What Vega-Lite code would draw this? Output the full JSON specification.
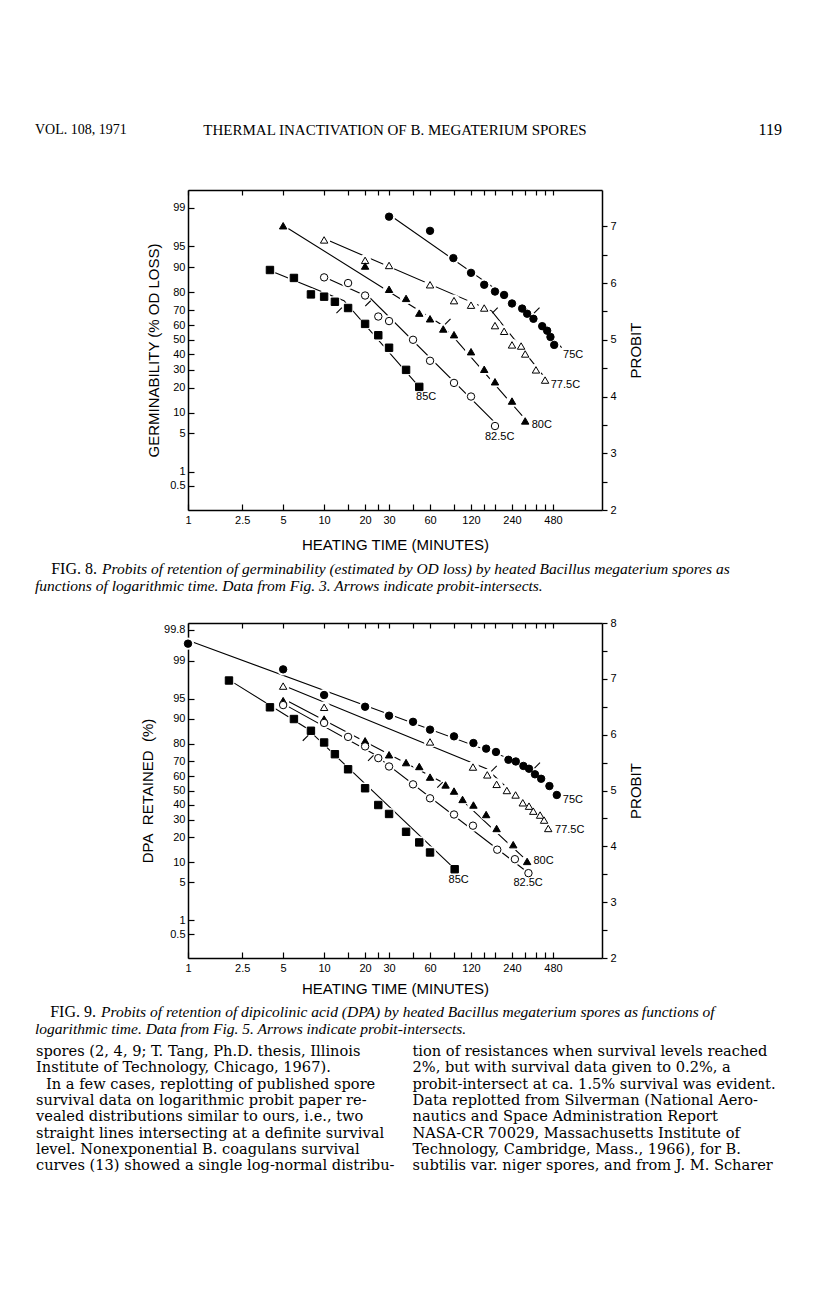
{
"$schema": "https://vega.github.io/schema/vega-lite/v6.json",
"background": "white",
"padding": {"left": 35, "top": 120, "right": 10, "bottom": 10},
"bounds": "flush",
"spacing": 0,
"datasets": {
"header": [
{"slot": "left", "line": 1, "text": "VOL. 108, 1971"},
{"slot": "mid", "line": 1, "text": "THERMAL INACTIVATION OF B. MEGATERIUM SPORES"},
{"slot": "right", "line": 1, "text": "119"}
],
"pts8": [
{"series":"75C","t":30,"p":7.17},{"series":"75C","t":60,"p":6.92},{"series":"75C","t":89,"p":6.44},{"series":"75C","t":120,"p":6.18},{"series":"75C","t":150,"p":5.97},{"series":"75C","t":180,"p":5.85},{"series":"75C","t":210,"p":5.79},{"series":"75C","t":240,"p":5.64},{"series":"75C","t":285,"p":5.55},{"series":"75C","t":310,"p":5.46},{"series":"75C","t":345,"p":5.37},{"series":"75C","t":400,"p":5.24},{"series":"75C","t":435,"p":5.16},{"series":"75C","t":460,"p":5.05},{"series":"75C","t":490,"p":4.91},
{"series":"77.5C","t":10,"p":6.76},{"series":"77.5C","t":20,"p":6.40},{"series":"77.5C","t":30,"p":6.31},{"series":"77.5C","t":60,"p":5.97},{"series":"77.5C","t":90,"p":5.69},{"series":"77.5C","t":120,"p":5.61},{"series":"77.5C","t":150,"p":5.56},{"series":"77.5C","t":180,"p":5.25},{"series":"77.5C","t":210,"p":5.15},{"series":"77.5C","t":240,"p":4.91},{"series":"77.5C","t":280,"p":4.89},{"series":"77.5C","t":300,"p":4.75},{"series":"77.5C","t":360,"p":4.47},{"series":"77.5C","t":420,"p":4.29},
{"series":"80C","t":5,"p":7.01},{"series":"80C","t":20,"p":6.30},{"series":"80C","t":30,"p":5.89},{"series":"80C","t":40,"p":5.73},{"series":"80C","t":50,"p":5.47},{"series":"80C","t":60,"p":5.37},{"series":"80C","t":75,"p":5.19},{"series":"80C","t":90,"p":5.09},{"series":"80C","t":120,"p":4.79},{"series":"80C","t":150,"p":4.48},{"series":"80C","t":180,"p":4.26},{"series":"80C","t":240,"p":3.92},{"series":"80C","t":300,"p":3.57},
{"series":"82.5C","t":10,"p":6.10},{"series":"82.5C","t":15,"p":6.00},{"series":"82.5C","t":20,"p":5.78},{"series":"82.5C","t":25,"p":5.41},{"series":"82.5C","t":30,"p":5.33},{"series":"82.5C","t":45,"p":5.00},{"series":"82.5C","t":60,"p":4.63},{"series":"82.5C","t":90,"p":4.24},{"series":"82.5C","t":120,"p":4.00},{"series":"82.5C","t":180,"p":3.48},
{"series":"85C","t":4,"p":6.23},{"series":"85C","t":6,"p":6.09},{"series":"85C","t":8,"p":5.80},{"series":"85C","t":10,"p":5.76},{"series":"85C","t":12,"p":5.67},{"series":"85C","t":15,"p":5.56},{"series":"85C","t":20,"p":5.28},{"series":"85C","t":25,"p":5.08},{"series":"85C","t":30,"p":4.86},{"series":"85C","t":40,"p":4.47},{"series":"85C","t":50,"p":4.17}
],
"lines8": [
{"series":"75C","t":32,"p":7.16},{"series":"75C","t":335,"p":5.45},{"series":"75C","t":556,"p":4.86},
{"series":"77.5C","t":11,"p":6.74},{"series":"77.5C","t":170,"p":5.51},{"series":"77.5C","t":420,"p":4.33},
{"series":"80C","t":5.3,"p":6.98},{"series":"80C","t":76,"p":5.24},{"series":"80C","t":300,"p":3.60},
{"series":"82.5C","t":10.4,"p":6.09},{"series":"82.5C","t":21.7,"p":5.74},{"series":"82.5C","t":180,"p":3.54},
{"series":"85C","t":4.2,"p":6.20},{"series":"85C","t":14,"p":5.69},{"series":"85C","t":52,"p":4.12}
],
"arrows8": [
{"series":"75C","t":365,"p":5.52},{"series":"77.5C","t":180,"p":5.52},{"series":"80C","t":81,"p":5.32},{"series":"82.5C","t":21,"p":5.64},{"series":"85C","t":12.9,"p":5.52}
],
"labels8": [
{"series":"75C","t":569,"p":4.73},{"series":"77.5C","t":462,"p":4.20},{"series":"80C","t":335,"p":3.50},{"series":"82.5C","t":152,"p":3.29},{"series":"85C","t":47.4,"p":4.0}
],
"cap8": [
{"kind":"label","line":1,"text":"FIG. 8."},
{"kind":"body","line":1,"text":"Probits of retention of germinability (estimated by OD loss) by heated Bacillus megaterium spores as"},
{"kind":"body","line":2,"text":"functions of logarithmic time. Data from Fig. 3. Arrows indicate probit-intersects."}
],
"pts9": [
{"series":"75C","t":1,"p":7.63},{"series":"75C","t":5,"p":7.17},{"series":"75C","t":10,"p":6.71},{"series":"75C","t":20,"p":6.50},{"series":"75C","t":30,"p":6.34},{"series":"75C","t":45,"p":6.23},{"series":"75C","t":60,"p":6.09},{"series":"75C","t":90,"p":5.97},{"series":"75C","t":125,"p":5.85},{"series":"75C","t":155,"p":5.75},{"series":"75C","t":183,"p":5.69},{"series":"75C","t":226,"p":5.55},{"series":"75C","t":256,"p":5.52},{"series":"75C","t":291,"p":5.44},{"series":"75C","t":320,"p":5.39},{"series":"75C","t":354,"p":5.29},{"series":"75C","t":393,"p":5.21},{"series":"75C","t":452,"p":5.08},{"series":"75C","t":512,"p":4.92},
{"series":"77.5C","t":5,"p":6.87},{"series":"77.5C","t":10,"p":6.49},{"series":"77.5C","t":60,"p":5.87},{"series":"77.5C","t":124,"p":5.42},{"series":"77.5C","t":158,"p":5.28},{"series":"77.5C","t":185,"p":5.11},{"series":"77.5C","t":220,"p":5.00},{"series":"77.5C","t":255,"p":4.92},{"series":"77.5C","t":288,"p":4.78},{"series":"77.5C","t":320,"p":4.72},{"series":"77.5C","t":344,"p":4.63},{"series":"77.5C","t":386,"p":4.56},{"series":"77.5C","t":413,"p":4.47},{"series":"77.5C","t":443,"p":4.32},
{"series":"80C","t":5,"p":6.61},{"series":"80C","t":10,"p":6.28},{"series":"80C","t":20,"p":5.89},{"series":"80C","t":30,"p":5.64},{"series":"80C","t":40,"p":5.50},{"series":"80C","t":50,"p":5.43},{"series":"80C","t":60,"p":5.24},{"series":"80C","t":78,"p":5.10},{"series":"80C","t":90,"p":4.99},{"series":"80C","t":104,"p":4.84},{"series":"80C","t":125,"p":4.74},{"series":"80C","t":155,"p":4.57},{"series":"80C","t":185,"p":4.32},{"series":"80C","t":245,"p":4.03},{"series":"80C","t":310,"p":3.73},
{"series":"82.5C","t":5,"p":6.53},{"series":"82.5C","t":10,"p":6.21},{"series":"82.5C","t":15,"p":5.96},{"series":"82.5C","t":20,"p":5.79},{"series":"82.5C","t":25,"p":5.58},{"series":"82.5C","t":30,"p":5.43},{"series":"82.5C","t":45,"p":5.11},{"series":"82.5C","t":60,"p":4.86},{"series":"82.5C","t":90,"p":4.57},{"series":"82.5C","t":124,"p":4.37},{"series":"82.5C","t":187,"p":3.94},{"series":"82.5C","t":252,"p":3.77},{"series":"82.5C","t":317,"p":3.52},
{"series":"85C","t":2,"p":6.97},{"series":"85C","t":4,"p":6.49},{"series":"85C","t":6,"p":6.28},{"series":"85C","t":8,"p":6.07},{"series":"85C","t":10,"p":5.86},{"series":"85C","t":12,"p":5.65},{"series":"85C","t":15,"p":5.38},{"series":"85C","t":20,"p":5.04},{"series":"85C","t":25,"p":4.74},{"series":"85C","t":30,"p":4.58},{"series":"85C","t":40,"p":4.26},{"series":"85C","t":50,"p":4.07},{"series":"85C","t":60,"p":3.89},{"series":"85C","t":91,"p":3.59}
],
"lines9": [
{"series":"75C","t":1.08,"p":7.66},{"series":"75C","t":340,"p":5.42},{"series":"75C","t":505,"p":4.94},
{"series":"77.5C","t":5.3,"p":6.86},{"series":"77.5C","t":156,"p":5.39},{"series":"77.5C","t":463,"p":4.32},
{"series":"80C","t":5.3,"p":6.61},{"series":"80C","t":75,"p":5.14},{"series":"80C","t":310,"p":3.74},
{"series":"82.5C","t":5.3,"p":6.52},{"series":"82.5C","t":23,"p":5.66},{"series":"82.5C","t":307,"p":3.55},
{"series":"85C","t":2.1,"p":6.95},{"series":"85C","t":7.4,"p":6.12},{"series":"85C","t":89,"p":3.62}
],
"arrows9": [
{"series":"85C","t":7.3,"p":5.94},{"series":"82.5C","t":22,"p":5.58},{"series":"80C","t":71,"p":5.10},{"series":"77.5C","t":177,"p":5.39},{"series":"75C","t":368,"p":5.45}
],
"labels9": [
{"series":"75C","t":567,"p":4.83},{"series":"77.5C","t":497,"p":4.29},{"series":"80C","t":345,"p":3.73},{"series":"82.5C","t":246,"p":3.34},{"series":"85C","t":82,"p":3.40}
],
"cap9": [
{"kind":"label","line":1,"text":"FIG. 9."},
{"kind":"body","line":1,"text":"Probits of retention of dipicolinic acid (DPA) by heated Bacillus megaterium spores as functions of"},
{"kind":"body","line":2,"text":"logarithmic time. Data from Fig. 5. Arrows indicate probit-intersects."}
],
"body": [
{"col":1,"line":1,"para":"cont","text":"spores (2, 4, 9; T. Tang, Ph.D. thesis, Illinois"},
{"col":1,"line":2,"para":"cont","text":"Institute of Technology, Chicago, 1967)."},
{"col":1,"line":3,"para":"start","text":"In a few cases, replotting of published spore"},
{"col":1,"line":4,"para":"cont","text":"survival data on logarithmic probit paper re-"},
{"col":1,"line":5,"para":"cont","text":"vealed distributions similar to ours, i.e., two"},
{"col":1,"line":6,"para":"cont","text":"straight lines intersecting at a definite survival"},
{"col":1,"line":7,"para":"cont","text":"level. Nonexponential B. coagulans survival"},
{"col":1,"line":8,"para":"cont","text":"curves (13) showed a single log-normal distribu-"},
{"col":2,"line":1,"para":"cont","text":"tion of resistances when survival levels reached"},
{"col":2,"line":2,"para":"cont","text":"2%, but with survival data given to 0.2%, a"},
{"col":2,"line":3,"para":"cont","text":"probit-intersect at ca. 1.5% survival was evident."},
{"col":2,"line":4,"para":"cont","text":"Data replotted from Silverman (National Aero-"},
{"col":2,"line":5,"para":"cont","text":"nautics and Space Administration Report"},
{"col":2,"line":6,"para":"cont","text":"NASA-CR 70029, Massachusetts Institute of"},
{"col":2,"line":7,"para":"cont","text":"Technology, Cambridge, Mass., 1966), for B."},
{"col":2,"line":8,"para":"cont","text":"subtilis var. niger spores, and from J. M. Scharer"}
]
},
"vconcat": [
{
"width": 414, "height": 70,
"data": {"name": "header"},
"encoding": {"y": {"field": "line", "type": "ordinal", "scale": {"type": "band", "range": [0, 20]}, "axis": null}},
"layer": [
{"transform": [{"filter": "datum.slot === 'left'"}],
 "mark": {"type": "text", "align": "left", "baseline": "middle", "font": "Liberation Serif", "fontSize": 14, "color": "black"},
 "encoding": {"x": {"field": "slot", "type": "nominal", "scale": {"type": "band", "domain": ["left", "right"], "range": [-153, 594], "paddingInner": 0, "paddingOuter": 0}, "bandPosition": 0, "axis": null}, "text": {"field": "text"}}},
{"transform": [{"filter": "datum.slot === 'mid'"}],
 "mark": {"type": "text", "align": "center", "baseline": "middle", "font": "Liberation Serif", "fontSize": 15, "color": "black"},
 "encoding": {"text": {"field": "text"}}},
{"transform": [{"filter": "datum.slot === 'right'"}],
 "mark": {"type": "text", "align": "right", "baseline": "middle", "font": "Liberation Serif", "fontSize": 16, "color": "black"},
 "encoding": {"x": {"field": "slot", "type": "nominal", "bandPosition": 1, "axis": null}, "text": {"field": "text"}}}
]
},
{
"width": 414, "height": 320,
"resolve": {"axis": {"x": "independent", "y": "independent"}},
"layer": [
{"data": {"name": "lines8"},
 "mark": {"type": "line", "stroke": "black", "strokeWidth": 1.1},
 "encoding": {
  "x": {"field": "t", "type": "quantitative", "scale": {"type": "log", "domain": [1, 1100], "nice": false},
        "axis": {"orient": "bottom", "values": [1,2.5,5,10,15,20,25,30,45,60,90,120,150,180,240,300,360,420,480],
                 "labelExpr": "indexof([1,2.5,5,10,20,30,60,120,240,480], datum.value) >= 0 ? datum.value : ''",
                 "tickSize": -6, "labelPadding": 10, "title": "HEATING TIME (MINUTES)", "titlePadding": 12}},
  "y": {"field": "p", "type": "quantitative", "scale": {"domain": [2, 7.64], "nice": false, "zero": false},
        "axis": {"orient": "left", "values": [7.3263,6.6449,6.2816,5.8416,5.5244,5.2533,5,4.7467,4.4756,4.1584,3.7184,3.3551,2.6737,2.4242],
                 "labelExpr": "round(cumulativeNormal(datum.value, 5, 1) * 1000) / 10",
                 "tickSize": -6, "labelPadding": 9, "title": "GERMINABILITY (% OD LOSS)", "titlePadding": 8}},
  "detail": {"field": "series"}
 }},
{"data": {"name": "pts8"},
 "mark": {"type": "point", "filled": true, "fill": "white", "strokeWidth": 0, "size": 150, "opacity": 1, "shape": "circle"},
 "encoding": {
  "x": {"field": "t", "type": "quantitative", "axis": {"orient": "top", "values": [1,2.5,5,10,15,20,25,30,45,60,90,120,150,180,240,300,360,420,480], "labels": false, "tickSize": -5, "title": null}},
  "y": {"field": "p", "type": "quantitative", "axis": {"orient": "right", "values": [2,2.5,3,3.5,4,4.5,5,5.5,6,6.5,7], "labelExpr": "datum.value % 1 === 0 ? datum.value : ''", "tickSize": 5, "labelPadding": 3, "title": "PROBIT", "titleAngle": 270, "titleBaseline": "top", "titlePadding": 12}}
 }},
{"data": {"name": "pts8"},
 "mark": {"type": "point", "filled": true, "stroke": "black", "strokeWidth": 1, "size": 55, "opacity": 1},
 "encoding": {
  "x": {"field": "t", "type": "quantitative", "axis": null},
  "y": {"field": "p", "type": "quantitative", "axis": null},
  "shape": {"field": "series", "type": "nominal", "scale": {"domain": ["75C","77.5C","80C","82.5C","85C"], "range": ["circle","triangle-up","triangle-up","circle","square"]}, "legend": null},
  "fill": {"field": "series", "type": "nominal", "scale": {"domain": ["75C","77.5C","80C","82.5C","85C"], "range": ["black","white","black","white","black"]}, "legend": null}
 }},
{"data": {"name": "arrows8"},
 "mark": {"type": "point", "shape": "M-1,1L1,-1", "size": 30, "stroke": "black", "strokeWidth": 1.1, "filled": false, "opacity": 1},
 "encoding": {
  "x": {"field": "t", "type": "quantitative", "axis": null},
  "y": {"field": "p", "type": "quantitative", "axis": null}
 }},
{"data": {"name": "labels8"},
 "mark": {"type": "text", "align": "left", "baseline": "middle", "font": "Liberation Sans", "fontSize": 11, "color": "black"},
 "encoding": {
  "x": {"field": "t", "type": "quantitative", "axis": null},
  "y": {"field": "p", "type": "quantitative", "axis": null},
  "text": {"field": "series"}
 }}
]
},
{
"width": 414, "height": 113,
"data": {"name": "cap8"},
"encoding": {
 "x": {"field": "line", "type": "ordinal", "scale": {"type": "band", "domain": [2, 1], "range": [-153, -19], "paddingInner": 0, "paddingOuter": 0}, "bandPosition": 0, "axis": null},
 "y": {"field": "line", "type": "ordinal", "scale": {"type": "band", "domain": [1, 2], "range": [50.5, 84.5], "paddingInner": 0, "paddingOuter": 0}, "axis": null},
 "text": {"field": "text"}
},
"layer": [
{"transform": [{"filter": "datum.kind === 'body'"}], "mark": {"type": "text", "align": "left", "baseline": "middle", "font": "Liberation Serif", "fontStyle": "italic", "fontSize": 15.5, "color": "black"}},
{"transform": [{"filter": "datum.kind === 'label'"}], "mark": {"type": "text", "align": "right", "baseline": "middle", "dx": -5, "font": "Liberation Serif", "fontSize": 16, "color": "black"}}
]
},
{
"width": 414, "height": 335,
"resolve": {"axis": {"x": "independent", "y": "independent"}},
"layer": [
{"data": {"name": "lines9"},
 "mark": {"type": "line", "stroke": "black", "strokeWidth": 1.1},
 "encoding": {
  "x": {"field": "t", "type": "quantitative", "scale": {"type": "log", "domain": [1, 1100], "nice": false},
        "axis": {"orient": "bottom", "values": [1,2.5,5,10,15,20,25,30,45,60,90,120,150,180,240,300,360,420,480],
                 "labelExpr": "indexof([1,2.5,5,10,20,30,60,120,240,480], datum.value) >= 0 ? datum.value : ''",
                 "tickSize": -6, "labelPadding": 10, "title": "HEATING TIME (MINUTES)", "titlePadding": 8}},
  "y": {"field": "p", "type": "quantitative", "scale": {"domain": [2, 8], "nice": false, "zero": false},
        "axis": {"orient": "left", "values": [7.8782,7.3263,6.6449,6.2816,5.8416,5.5244,5.2533,5,4.7467,4.4756,4.1584,3.7184,3.3551,2.6737,2.4242],
                 "labelExpr": "round(cumulativeNormal(datum.value, 5, 1) * 1000) / 10",
                 "tickSize": -6, "labelPadding": 9, "title": "DPA\u00a0\u00a0RETAINED\u00a0\u00a0(%)", "titlePadding": 8}},
  "detail": {"field": "series"}
 }},
{"data": {"name": "pts9"},
 "mark": {"type": "point", "filled": true, "fill": "white", "strokeWidth": 0, "size": 150, "opacity": 1, "shape": "circle"},
 "encoding": {
  "x": {"field": "t", "type": "quantitative", "axis": {"orient": "top", "values": [1,2.5,5,10,15,20,25,30,45,60,90,120,150,180,240,300,360,420,480], "labels": false, "tickSize": -5, "title": null}},
  "y": {"field": "p", "type": "quantitative", "axis": {"orient": "right", "values": [2,2.5,3,3.5,4,4.5,5,5.5,6,6.5,7,7.5,8], "labelExpr": "datum.value % 1 === 0 ? datum.value : ''", "tickSize": 5, "labelPadding": 3, "title": "PROBIT", "titleAngle": 270, "titleBaseline": "top", "titlePadding": 12}}
 }},
{"data": {"name": "pts9"},
 "mark": {"type": "point", "filled": true, "stroke": "black", "strokeWidth": 1, "size": 55, "opacity": 1},
 "encoding": {
  "x": {"field": "t", "type": "quantitative", "axis": null},
  "y": {"field": "p", "type": "quantitative", "axis": null},
  "shape": {"field": "series", "type": "nominal", "scale": {"domain": ["75C","77.5C","80C","82.5C","85C"], "range": ["circle","triangle-up","triangle-up","circle","square"]}, "legend": null},
  "fill": {"field": "series", "type": "nominal", "scale": {"domain": ["75C","77.5C","80C","82.5C","85C"], "range": ["black","white","black","white","black"]}, "legend": null}
 }},
{"data": {"name": "arrows9"},
 "mark": {"type": "point", "shape": "M-1,1L1,-1", "size": 30, "stroke": "black", "strokeWidth": 1.1, "filled": false, "opacity": 1},
 "encoding": {
  "x": {"field": "t", "type": "quantitative", "axis": null},
  "y": {"field": "p", "type": "quantitative", "axis": null}
 }},
{"data": {"name": "labels9"},
 "mark": {"type": "text", "align": "left", "baseline": "middle", "font": "Liberation Sans", "fontSize": 11, "color": "black"},
 "encoding": {
  "x": {"field": "t", "type": "quantitative", "axis": null},
  "y": {"field": "p", "type": "quantitative", "axis": null},
  "text": {"field": "series"}
 }}
]
},
{
"width": 414, "height": 86,
"data": {"name": "cap9"},
"encoding": {
 "x": {"field": "line", "type": "ordinal", "scale": {"type": "band", "domain": [2, 1], "range": [-153, -21], "paddingInner": 0, "paddingOuter": 0}, "bandPosition": 0, "axis": null},
 "y": {"field": "line", "type": "ordinal", "scale": {"type": "band", "domain": [1, 2], "range": [45.5, 79.5], "paddingInner": 0, "paddingOuter": 0}, "axis": null},
 "text": {"field": "text"}
},
"layer": [
{"transform": [{"filter": "datum.kind === 'body'"}], "mark": {"type": "text", "align": "left", "baseline": "middle", "font": "Liberation Serif", "fontStyle": "italic", "fontSize": 15.5, "color": "black"}},
{"transform": [{"filter": "datum.kind === 'label'"}], "mark": {"type": "text", "align": "right", "baseline": "middle", "dx": -5, "font": "Liberation Serif", "fontSize": 16, "color": "black"}}
]
},
{
"width": 414, "height": 130.4,
"data": {"name": "body"},
"encoding": {
 "x": {"field": "col", "type": "ordinal", "scale": {"type": "band", "domain": [1, 2], "range": [-152, 601], "paddingInner": 0, "paddingOuter": 0}, "bandPosition": 0, "axis": null},
 "y": {"field": "line", "type": "ordinal", "scale": {"type": "band", "domain": [1,2,3,4,5,6,7,8], "range": [0, 130.4], "paddingInner": 0, "paddingOuter": 0}, "axis": null},
 "text": {"field": "text"}
},
"layer": [
{"transform": [{"filter": "datum.para === 'cont'"}], "mark": {"type": "text", "align": "left", "baseline": "middle", "font": "DejaVu Serif", "fontSize": 14.6, "color": "black"}},
{"transform": [{"filter": "datum.para === 'start'"}], "mark": {"type": "text", "align": "left", "baseline": "middle", "dx": 10, "font": "DejaVu Serif", "fontSize": 14.6, "color": "black"}}
]
}
],
"config": {
 "font": "Liberation Sans",
 "view": {"stroke": null},
 "axis": {"domainColor": "black", "domainWidth": 1.5, "tickColor": "black", "tickWidth": 1.2, "labelColor": "black", "labelFont": "Liberation Sans", "labelFontSize": 11, "titleFont": "Liberation Sans", "titleFontSize": 15, "titleFontWeight": "normal", "titleColor": "black", "grid": false, "labelOverlap": false, "labelFlush": false, "labelBound": false}
}
}
